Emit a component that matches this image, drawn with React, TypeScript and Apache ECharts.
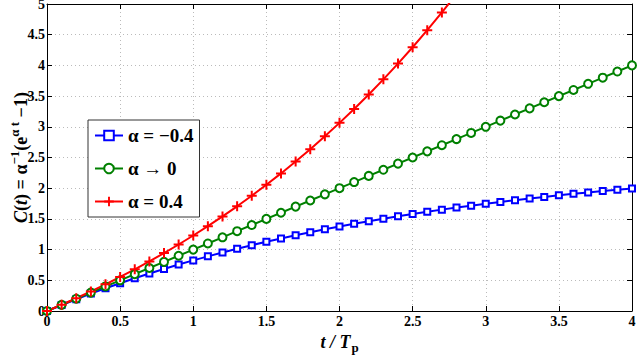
import React, { useEffect, useRef } from "react";
import * as echarts from "echarts";

const tValues = [0, 0.1, 0.2, 0.3, 0.4, 0.5, 0.6, 0.7, 0.8, 0.9, 1.0, 1.1, 1.2, 1.3, 1.4, 1.5, 1.6, 1.7, 1.8, 1.9, 2.0, 2.1, 2.2, 2.3, 2.4, 2.5, 2.6, 2.7, 2.8, 2.9, 3.0, 3.1, 3.2, 3.3, 3.4, 3.5, 3.6, 3.7, 3.8, 3.9, 4.0];

const negValues = [0, 0.098, 0.192, 0.283, 0.37, 0.453, 0.533, 0.611, 0.685, 0.756, 0.824, 0.89, 0.953, 1.014, 1.072, 1.128, 1.182, 1.234, 1.283, 1.331, 1.377, 1.421, 1.463, 1.504, 1.543, 1.58, 1.616, 1.651, 1.684, 1.716, 1.747, 1.777, 1.805, 1.832, 1.858, 1.884, 1.908, 1.931, 1.953, 1.975, 1.995];

const zeroValues = [0, 0.1, 0.2, 0.3, 0.4, 0.5, 0.6, 0.7, 0.8, 0.9, 1.0, 1.1, 1.2, 1.3, 1.4, 1.5, 1.6, 1.7, 1.8, 1.9, 2.0, 2.1, 2.2, 2.3, 2.4, 2.5, 2.6, 2.7, 2.8, 2.9, 3.0, 3.1, 3.2, 3.3, 3.4, 3.5, 3.6, 3.7, 3.8, 3.9, 4.0];

const posValues = [0, 0.102, 0.208, 0.319, 0.434, 0.554, 0.678, 0.808, 0.943, 1.083, 1.23, 1.382, 1.54, 1.705, 1.877, 2.055, 2.241, 2.435, 2.636, 2.846, 3.064, 3.291, 3.527, 3.773, 4.029, 4.296, 4.573, 4.862, 5.162];

const seriesNames = ["α = −0.4", "α → 0", "α = 0.4"];
const seriesColors = ["#0000ff", "#008000", "#ff0000"];

const FONT = "Liberation Serif";
const PLUS = "path://M4,0L6,0L6,4L10,4L10,6L6,6L6,10L4,10L4,6L0,6L0,4L4,4Z";

export default function App() {
  const ref = useRef<HTMLDivElement>(null);
  useEffect(() => {
    if (!ref.current) return;
    const chart = echarts.init(ref.current, null, { renderer: "svg" });
    const pairs = (ys: number[]) => ys.map((y, i) => [tValues[i], y]);
    const axisCommon = {
      min: 0,
      axisLine: { show: true, onZero: false, lineStyle: { color: "#000", width: 1 } },
      axisTick: { show: true, inside: true, length: 5, lineStyle: { color: "#000" } },
    };
    chart.setOption({
      animation: false,
      backgroundColor: "#fff",
      grid: { left: 47, right: 8, top: 4, bottom: 45, containLabel: false, outerBoundsMode: "none" },
      legend: {
        left: 88,
        top: 120,
        orient: "vertical",
        itemWidth: 28,
        itemHeight: 12,
        itemGap: 14,
        padding: [6, 6, 6, 6],
        backgroundColor: "#fff",
        borderColor: "#333",
        borderWidth: 1,
        borderRadius: 0,
        textStyle: { fontFamily: FONT, fontSize: 19, fontWeight: "bold", color: "#000" },
        data: seriesNames,
      },
      xAxis: [
        {
          type: "value",
          ...axisCommon,
          max: 4,
          interval: 0.5,
          position: "bottom",
          splitLine: { show: true, lineStyle: { color: "#bbb", type: [1, 3], width: 1 } },
          axisLabel: { fontFamily: FONT, fontSize: 14, fontWeight: "bold", color: "#000", margin: 3 },
          name: "{i|t / T}{sub|p}",
          nameLocation: "middle",
          nameGap: 15,
          nameTextStyle: {
            rich: {
              i: { fontFamily: FONT, fontSize: 18, fontWeight: "bold", fontStyle: "italic", color: "#000" },
              sub: { fontFamily: FONT, fontSize: 13, fontWeight: "bold", color: "#000", padding: [12, 0, 0, 1] },
            },
          },
        },
        {
          type: "value",
          ...axisCommon,
          max: 4,
          interval: 0.5,
          position: "top",
          splitLine: { show: false },
          axisLabel: { show: false },
        },
      ],
      yAxis: [
        {
          type: "value",
          ...axisCommon,
          max: 5,
          interval: 0.5,
          position: "left",
          splitLine: { show: true, lineStyle: { color: "#bbb", type: [1, 3], width: 1 } },
          axisLabel: { fontFamily: FONT, fontSize: 14, fontWeight: "bold", color: "#000", margin: 2 },
          name: "{i|C}{n|(}{i|t}{n|) = α}{sup|−1}{n|(e}{sup|α t}{n| −1)}",
          nameLocation: "middle",
          nameRotate: 90,
          nameGap: 14,
          nameMoveOverlap: false,
          nameTextStyle: {
            rich: {
              n: { fontFamily: FONT, fontSize: 18, fontWeight: "bold", color: "#000" },
              i: { fontFamily: FONT, fontSize: 18, fontWeight: "bold", fontStyle: "italic", color: "#000" },
              sup: { fontFamily: FONT, fontSize: 13, fontWeight: "bold", color: "#000", padding: [0, 0, 12, 0] },
            },
          },
        },
        {
          type: "value",
          ...axisCommon,
          max: 5,
          interval: 0.5,
          position: "right",
          splitLine: { show: false },
          axisLabel: { show: false },
        },
      ],
      series: [
        {
          name: seriesNames[0],
          type: "line",
          data: pairs(negValues),
          symbol: "rect",
          symbolSize: 6,
          showAllSymbol: true,
          clip: true,
          lineStyle: { color: seriesColors[0], width: 2 },
          itemStyle: { color: "#fff", borderColor: seriesColors[0], borderWidth: 2 },
        },
        {
          name: seriesNames[1],
          type: "line",
          data: pairs(zeroValues),
          symbol: "circle",
          symbolSize: 8,
          showAllSymbol: true,
          clip: true,
          lineStyle: { color: seriesColors[1], width: 2 },
          itemStyle: { color: "#fff", borderColor: seriesColors[1], borderWidth: 2 },
        },
        {
          name: seriesNames[2],
          type: "line",
          data: pairs(posValues),
          symbol: PLUS,
          symbolSize: 10,
          showAllSymbol: true,
          clip: true,
          lineStyle: { color: seriesColors[2], width: 2 },
          itemStyle: { color: seriesColors[2], borderWidth: 0 },
        },
      ],
    });
    return () => chart.dispose();
  }, []);
  return <div ref={ref} style={{ width: 640, height: 356, position: "absolute", left: 0, top: 0 }} />;
}
